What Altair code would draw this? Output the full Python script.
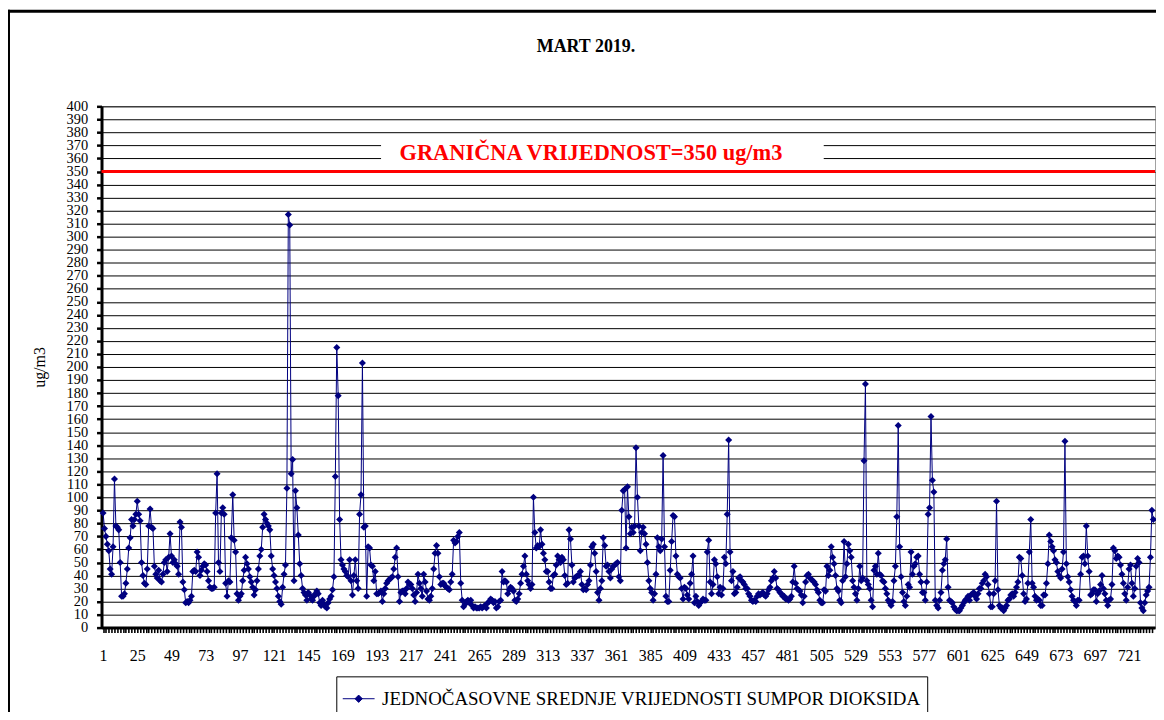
import altair as alt
import pandas as pd

# Hourly SO2 values, one list per day of March 2019
d01 = [88, 76, 70, 64, 59, 45, 41, 62, 114, 78, 77, 75, 50, 24, 24, 26, 34, 45, 61, 69, 83, 78, 83, 87]
d02 = [97, 87, 82, 50, 40, 34, 33, 45, 78, 91, 77, 76, 47, 41, 38, 44, 36, 35, 41, 50, 52, 43, 54, 72]
d03 = [55, 50, 52, 49, 47, 41, 81, 77, 35, 29, 19, 20, 19, 21, 24, 43, 44, 43, 58, 54, 40, 44, 47, 49]
d04 = [48, 43, 36, 31, 30, 30, 31, 88, 118, 50, 43, 88, 92, 87, 34, 24, 36, 35, 69, 102, 67, 58, 26, 21]
d05 = [24, 26, 36, 44, 54, 49, 45, 39, 35, 31, 25, 29, 36, 45, 55, 60, 77, 87, 83, 80, 78, 75, 55, 45]
d06 = [40, 35, 30, 24, 20, 18, 31, 41, 48, 107, 317, 309, 118, 129, 36, 105, 92, 71, 49, 40, 30, 27, 25, 21]
d07 = [27, 25, 22, 21, 24, 26, 28, 26, 19, 17, 21, 18, 16, 15, 19, 22, 24, 29, 39, 116, 215, 178, 83, 52]
d08 = [48, 45, 43, 40, 39, 52, 36, 25, 40, 52, 36, 30, 87, 102, 203, 77, 78, 24, 62, 61, 48, 47, 36, 43]
d09 = [26, 26, 27, 28, 20, 26, 30, 34, 36, 37, 38, 39, 45, 54, 61, 39, 20, 27, 28, 28, 26, 30, 35, 33]
d10 = [33, 30, 25, 20, 27, 41, 34, 30, 24, 41, 35, 28, 22, 21, 24, 30, 45, 57, 63, 57, 39, 33, 34, 34]
d11 = [32, 31, 30, 29, 35, 41, 67, 65, 66, 70, 73, 34, 21, 16, 18, 20, 21, 19, 21, 17, 15, 16, 15, 15]
d12 = [15, 16, 15, 16, 17, 15, 19, 20, 22, 21, 19, 20, 15, 16, 20, 21, 43, 35, 36, 35, 26, 29, 31, 30]
d13 = [28, 21, 20, 22, 26, 34, 41, 47, 55, 41, 36, 33, 30, 33, 100, 73, 61, 63, 62, 75, 64, 57, 52, 43]
d14 = [43, 35, 30, 30, 40, 41, 48, 55, 52, 50, 54, 52, 40, 33, 34, 75, 68, 48, 35, 38, 39, 40, 40, 43]
d15 = [33, 29, 30, 29, 33, 36, 48, 62, 64, 57, 43, 27, 21, 30, 36, 69, 63, 47, 48, 43, 38, 45, 47, 48]
d16 = [49, 50, 39, 36, 90, 105, 106, 61, 108, 85, 72, 77, 73, 78, 138, 100, 78, 59, 73, 77, 72, 64, 50, 36]
d17 = [30, 27, 21, 26, 41, 69, 62, 59, 68, 132, 62, 24, 20, 20, 44, 66, 86, 85, 55, 41, 39, 38, 30, 22]
d18 = [31, 30, 25, 22, 34, 41, 55, 19, 24, 20, 17, 19, 20, 22, 21, 21, 58, 67, 35, 26, 33, 52, 49, 39]
d19 = [26, 31, 25, 30, 54, 49, 87, 144, 58, 36, 43, 26, 27, 31, 38, 39, 36, 35, 33, 30, 30, 26, 24, 21]
d20 = [20, 21, 20, 24, 26, 25, 26, 27, 25, 24, 26, 29, 31, 36, 38, 43, 38, 30, 29, 27, 26, 24, 24, 22]
d21 = [22, 21, 22, 24, 35, 47, 34, 30, 29, 28, 25, 19, 24, 35, 40, 41, 38, 37, 36, 35, 33, 29, 27, 21]
d22 = [19, 19, 29, 28, 47, 40, 44, 62, 54, 49, 40, 30, 28, 21, 19, 36, 66, 39, 49, 64, 59, 54, 36, 31]
d23 = [26, 21, 30, 47, 36, 38, 128, 187, 36, 33, 30, 21, 16, 44, 47, 41, 57, 41, 40, 36, 35, 30, 26, 21]
d24 = [19, 17, 20, 36, 47, 85, 155, 62, 39, 27, 20, 17, 24, 33, 31, 58, 41, 47, 49, 54, 55, 41, 35, 27]
d25 = [27, 21, 35, 87, 92, 162, 113, 104, 21, 17, 15, 21, 27, 44, 49, 52, 68, 31, 21, 20, 19, 16, 14, 13]
d26 = [13, 13, 15, 17, 19, 21, 22, 24, 21, 25, 26, 27, 24, 22, 26, 30, 30, 34, 36, 41, 39, 33, 26, 16]
d27 = [16, 26, 36, 97, 29, 17, 15, 15, 13, 15, 17, 21, 22, 25, 26, 24, 27, 31, 35, 54, 53, 40, 26, 20]
d28 = [22, 34, 58, 83, 34, 31, 24, 21, 22, 21, 17, 17, 25, 25, 34, 49, 71, 66, 62, 59, 52, 50, 43, 40]
d29 = [38, 45, 58, 143, 49, 39, 35, 29, 24, 21, 20, 17, 21, 21, 41, 54, 55, 49, 78, 55, 43, 25, 26, 29]
d30 = [29, 20, 26, 28, 33, 40, 30, 26, 21, 17, 21, 22, 33, 61, 59, 53, 55, 54, 48, 41, 34, 26, 21, 31]
d31 = [45, 48, 34, 24, 30, 47, 53, 50, 19, 15, 13, 19, 25, 28, 31, 54, 90, 83]

days = [d01, d02, d03, d04, d05, d06, d07, d08, d09, d10, d11, d12, d13, d14, d15, d16,
        d17, d18, d19, d20, d21, d22, d23, d24, d25, d26, d27, d28, d29, d30, d31]
values = [v for d in days for v in d]
hours = list(range(1, len(values) + 1))

series_name = "JEDNOČASOVNE SREDNJE VRIJEDNOSTI SUMPOR DIOKSIDA"
chart_title = "MART 2019."
y_title = "ug/m3"
limit_value = [350]
limit_label = "GRANIČNA VRIJEDNOST=350 ug/m3"
y_ticks = list(range(0, 401, 10))
x_ticks = list(range(1, len(values) + 1, 2))

FONT = "Liberation Serif"
NAVY = "#000080"

df = pd.DataFrame({"sat": hours, "vrijednost": values, "serija": series_name})

x_scale = alt.Scale(domain=[-0.1, 739.2], nice=False, zero=False)
y_scale = alt.Scale(domain=[0, 400], nice=False, zero=True)

x_axis = alt.Axis(
    values=x_ticks,
    labelExpr="(datum.value - 1) % 24 == 0 ? datum.label : ''",
    labelOverlap=False, labelFont=FONT, labelFontSize=16, labelColor="black",
    labelPadding=15, tickSize=5, tickWidth=1.6, tickColor="black",
    domainColor="black", domainWidth=3, grid=False, title=None, format="d",
    labelBound=False, labelFlush=False,
)
y_axis = alt.Axis(
    values=y_ticks, labelOverlap=False, labelFont=FONT, labelFontSize=14.5,
    labelColor="black", labelPadding=9, tickSize=5, tickWidth=2.5,
    tickColor="black", domainColor="black", domainWidth=3,
    grid=True, gridColor="black", gridWidth=1,
    title=y_title, titleFont=FONT, titleFontSize=16, titleFontWeight="normal",
    titleColor="black", titleAngle=270, titleX=-62, titleY=262,
    titleAlign="center", titleBaseline="middle", labelBound=False, labelFlush=False,
)

legend_path = "M-1,0L1,0M0,-0.23L0.23,0L0,0.23L-0.23,0Z"
series_legend = alt.Legend(
    orient="none", legendX=236, legendY=573, title=None,
    labelFont=FONT, labelFontSize=19, labelColor="black", labelLimit=0,
    symbolType=legend_path, symbolSize=1024, symbolStrokeWidth=1,
    symbolFillColor=NAVY, symbolStrokeColor=NAVY, labelOffset=7,
    strokeColor="black", fillColor="white", padding=6,
)
color_enc = alt.Color("serija:N", scale=alt.Scale(range=[NAVY]), legend=series_legend)

line = alt.Chart(df).mark_line(strokeWidth=1).encode(
    x=alt.X("sat:Q", scale=x_scale, axis=x_axis),
    y=alt.Y("vrijednost:Q", scale=y_scale, axis=y_axis),
    color=color_enc,
)

points = alt.Chart(df).mark_point(shape="diamond", filled=True, size=50, opacity=1).encode(
    x=alt.X("sat:Q", scale=x_scale, axis=x_axis),
    y=alt.Y("vrijednost:Q", scale=y_scale, axis=y_axis),
    color=color_enc,
)

limit_df = pd.DataFrame({"granica": limit_value, "tekst": [limit_label]})

label_box = alt.Chart(limit_df).mark_rect(color="white", opacity=1).encode(
    x=alt.value(281), x2=alt.value(726), y=alt.value(32), y2=alt.value(63),
)

limit_rule = alt.Chart(limit_df).mark_rule(color="#ff0000", strokeWidth=3).encode(
    y=alt.Y("granica:Q", scale=y_scale, axis=y_axis),
)

limit_text = alt.Chart(limit_df).mark_text(
    color="#ff0000", font=FONT, fontSize=22.5, fontWeight="bold",
    align="center", baseline="middle",
).encode(x=alt.value(492), y=alt.value(47), text="tekst:N")

title_df = pd.DataFrame({"naslov": [chart_title]})
title_text = alt.Chart(title_df).mark_text(
    color="black", font=FONT, fontSize=18, fontWeight="bold",
    align="center", baseline="middle",
).encode(x=alt.value(487), y=alt.value(-60), text="naslov:N")

frame_df = pd.DataFrame({"okvir": [1]})
frame_left = alt.Chart(frame_df).mark_rule(color="black", strokeWidth=3).encode(
    x=alt.value(-93.5), y=alt.value(-97), y2=alt.value(620)
)
frame_top = alt.Chart(frame_df).mark_rule(color="black", strokeWidth=3).encode(
    x=alt.value(-94), x2=alt.value(1062), y=alt.value(-95.5)
)

chart = alt.layer(
    label_box, limit_rule, line, points, limit_text, title_text, frame_left, frame_top
).properties(
    width=1059, height=524,
    autosize=alt.AutoSizeParams(type="none"),
    padding={"left": 94, "top": 97, "right": 1, "bottom": 83},
    background="white",
).configure_view(
    stroke="#a0a0a0", strokeWidth=1
).configure_axis(
    labelOverlap=False
)

chart.save("out.html", embed_options={"renderer": "svg", "actions": False})
